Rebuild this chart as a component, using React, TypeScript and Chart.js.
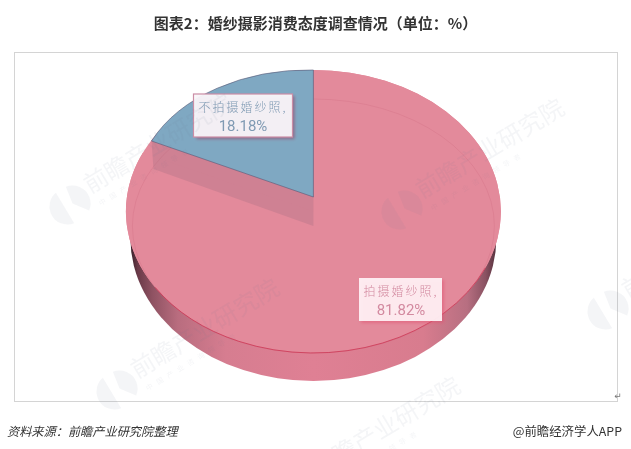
import React, { useEffect, useRef } from "react";
import { Chart, registerables } from "chart.js";

Chart.register(...registerables);

const categories = ["不拍摄婚纱照", "拍摄婚纱照"];
const shares = [18.18, 81.82];
const sliceColors = ["#7fa8c2", "#e38a9b"];
const titleText = "图表2：婚纱摄影消费态度调查情况（单位：%）";
const sourceText = "资料来源：前瞻产业研究院整理";
const brandText = "@前瞻经济学人APP";
const watermarkText = "前瞻产业研究院";
const watermarkSubText = "中国产业咨询领导者";
const watermarkSpots = [
  [70, 205],
  [402, 210],
  [117, 390],
  [608, 310],
  [298, 488],
];

const CJK = '"Noto Sans CJK SC", "Noto Sans", sans-serif';

const top = { cx: 313.4, cy: 211.5, rx: 187.5, ry: 141.5 };
const depth = { cx: 313.4, cy: 238, rx: 183, ry: 143 };
const wedge = { ax: 313.4, ay: 197, a: 178, b: 3.56, d: 127 };

function roundBox(ctx: CanvasRenderingContext2D, x: number, y: number, w: number, h: number, fill: string, shadow: string, border?: string) {
  ctx.save();
  ctx.shadowColor = shadow;
  ctx.shadowBlur = 3;
  ctx.shadowOffsetX = 2;
  ctx.shadowOffsetY = 2;
  ctx.fillStyle = fill;
  ctx.fillRect(x, y, w, h);
  ctx.restore();
  if (border) {
    ctx.strokeStyle = border;
    ctx.lineWidth = 1.2;
    ctx.strokeRect(x, y, w, h);
  }
}

const scenePlugin = {
  id: "scene",
  beforeDatasetDraw(chart: any) {
    const ctx: CanvasRenderingContext2D = chart.ctx;
    const arcs = chart.getDatasetMeta(0).data;
    const [blue, pink] = arcs;
    const R = pink.outerRadius;

    // frame
    ctx.strokeStyle = "#d4d4d4";
    ctx.lineWidth = 1;
    ctx.strokeRect(14.5, 52.5, 603, 349);

    // side wall
    const g = ctx.createLinearGradient(depth.cx - depth.rx, 0, depth.cx + depth.rx, 0);
    g.addColorStop(0, "#38202a");
    g.addColorStop(0.02, "#6a3a48");
    g.addColorStop(0.06, "#8f5262");
    g.addColorStop(0.13, "#b96d7f");
    g.addColorStop(0.26, "#d67d90");
    g.addColorStop(0.5, "#df8094");
    g.addColorStop(0.8, "#d87c8e");
    g.addColorStop(0.92, "#b76f81");
    g.addColorStop(0.97, "#8a5262");
    g.addColorStop(1, "#55303c");
    ctx.fillStyle = g;
    ctx.beginPath();
    ctx.ellipse(depth.cx, depth.cy, depth.rx, depth.ry, 0, 0, Math.PI * 2);
    ctx.fill();

    // top surface base
    ctx.fillStyle = sliceColors[1];
    ctx.beginPath();
    ctx.ellipse(top.cx, top.cy, top.rx, top.ry, 0, 0, Math.PI * 2);
    ctx.fill();

    // pink slice, through the library, squashed to the ellipse
    ctx.save();
    ctx.translate(top.cx, top.cy);
    ctx.scale(top.rx / R, top.ry / R);
    ctx.translate(-pink.x, -pink.y);
    pink.draw(ctx);
    ctx.restore();

    // inner rim
    ctx.strokeStyle = "rgba(205,105,125,0.28)";
    ctx.lineWidth = 1;
    ctx.beginPath();
    ctx.ellipse(top.cx, 226, 181, 127, 0, 0, Math.PI * 2);
    ctx.stroke();

    // wedge cavity shade
    const sweep = (shares[0] / 100) * Math.PI * 2;
    const lx = wedge.ax - wedge.a * Math.sin(sweep);
    const ly = wedge.ay - wedge.b * Math.sin(sweep) - wedge.d * Math.cos(sweep);
    ctx.fillStyle = "rgba(150,105,125,0.26)";
    ctx.beginPath();
    ctx.moveTo(lx, ly);
    ctx.lineTo(wedge.ax, wedge.ay);
    ctx.lineTo(wedge.ax, wedge.ay + 29);
    ctx.lineTo(lx + 2, ly + 28);
    ctx.closePath();
    ctx.fill();

    // blue slice, through the library, sheared to the perspective
    ctx.save();
    ctx.transform(wedge.a / R, wedge.b / R, 0, wedge.d / R, wedge.ax, wedge.ay);
    ctx.translate(-blue.x, -blue.y);
    blue.draw(ctx);
    ctx.restore();

    // front edge line
    ctx.strokeStyle = "rgba(205,55,85,0.8)";
    ctx.lineWidth = 1;
    ctx.beginPath();
    ctx.ellipse(top.cx, top.cy, top.rx, top.ry, 0, Math.PI * 0.13, Math.PI * 0.82);
    ctx.stroke();

    return false;
  },
  afterDraw(chart: any) {
    const ctx: CanvasRenderingContext2D = chart.ctx;

    // labels
    const boxes = [
      { x: 193.5, y: 94, w: 99, h: 43, tx: 243, color: "#7f9ab3", fill: "rgba(250,248,251,0.94)", shadow: "rgba(150,70,105,0.7)", border: "#cb8ea6" },
      { x: 359, y: 278, w: 83, h: 43, tx: 401, color: "#d38aa0", fill: "rgba(255,244,247,0.92)", shadow: "rgba(225,80,110,0.55)" },
    ];
    boxes.forEach((b, i) => {
      roundBox(ctx, b.x, b.y, b.w, b.h, b.fill, b.shadow, b.border);
      ctx.fillStyle = b.color;
      ctx.textAlign = "center";
      ctx.textBaseline = "middle";
      ctx.font = `300 12px ${CJK}`;
      (ctx as any).letterSpacing = "2px";
      ctx.fillText(categories[i] + ",", b.tx, b.y + 13);
      (ctx as any).letterSpacing = "0px";
      ctx.font = "15px Roboto, sans-serif";
      ctx.fillText(shares[i].toFixed(2) + "%", b.tx, b.y + 33);
    });

    // watermarks
    watermarkSpots.forEach(([x, y]) => {
      ctx.save();
      ctx.translate(x, y);
      ctx.rotate((-31 * Math.PI) / 180);
      ctx.fillStyle = "rgba(105,120,150,0.075)";
      ctx.beginPath();
      ctx.arc(-3, 0, 18, Math.PI * 0.55, Math.PI * 1.45);
      ctx.closePath();
      ctx.fill();
      ctx.beginPath();
      ctx.arc(3, 0, 18, -Math.PI * 0.45, Math.PI * 0.3);
      ctx.lineTo(3, 0);
      ctx.closePath();
      ctx.fill();
      ctx.textAlign = "left";
      ctx.textBaseline = "middle";
      ctx.font = `24px ${CJK}`;
      ctx.fillText(watermarkText, 23, -8);
      ctx.font = `7px ${CJK}`;
      (ctx as any).letterSpacing = "5px";
      ctx.fillText(watermarkSubText, 26, 14);
      (ctx as any).letterSpacing = "0px";
      ctx.restore();
    });

    // return mark
    ctx.fillStyle = "#777";
    ctx.font = "9px 'DejaVu Sans'";
    ctx.textAlign = "center";
    ctx.textBaseline = "middle";
    ctx.fillText("↵", 618, 397);

    // footer
    ctx.fillStyle = "#333";
    ctx.textBaseline = "middle";
    ctx.textAlign = "left";
    ctx.font = `italic 12.2px ${CJK}`;
    ctx.fillText(sourceText, 7, 431);
    ctx.textAlign = "right";
    ctx.font = `12.4px ${CJK}`;
    ctx.fillText(brandText, 622, 431);
  },
};

export default function App() {
  const ref = useRef<HTMLCanvasElement>(null);
  useEffect(() => {
    const chart = new Chart(ref.current!, {
      type: "pie",
      data: {
        labels: categories,
        datasets: [
          {
            data: shares,
            backgroundColor: sliceColors,
            borderColor: ["rgba(85,85,115,0.75)", "rgba(0,0,0,0)"],
            borderWidth: [1, 0],
          },
        ],
      },
      options: {
        responsive: false,
        animation: false,
        rotation: -(shares[0] / 100) * 360,
        layout: { padding: { top: 0, bottom: 20, left: 20, right: 20 } },
        plugins: {
          legend: { display: false },
          tooltip: { enabled: false },
          title: {
            display: true,
            text: titleText,
            color: "#333",
            font: { family: CJK, size: 15, weight: "bold" },
            padding: { top: 14, bottom: 14 },
          },
        },
      },
      plugins: [scenePlugin],
    } as any);
    return () => chart.destroy();
  }, []);
  return (
    <div style={{ position: "absolute", left: 0, top: 0, width: 631, height: 449, background: "#fff" }}>
      <canvas ref={ref} width={631} height={449} style={{ display: "block" }} />
    </div>
  );
}
